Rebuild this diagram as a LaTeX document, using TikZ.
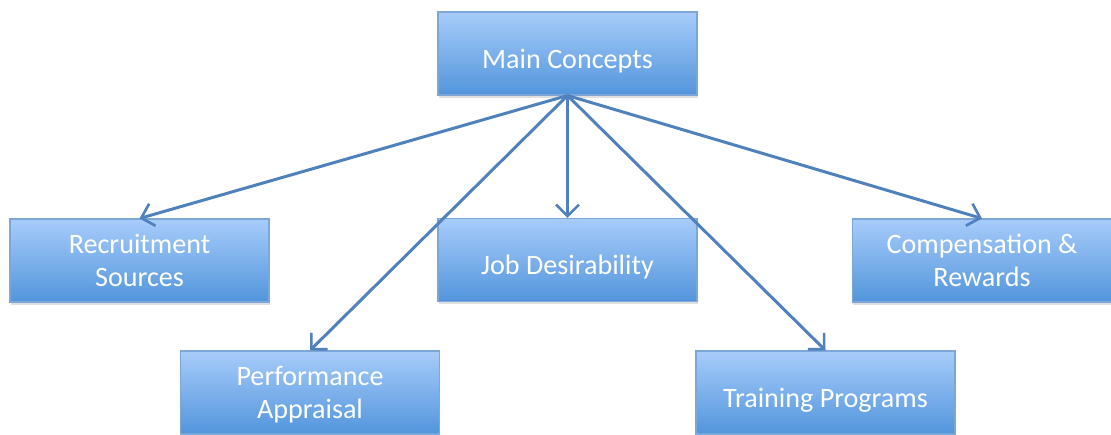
\documentclass[tikz,border=0pt]{standalone}
\usepackage{fontspec}
\setmainfont{Carlito}
\usepackage{tikz}
\usetikzlibrary{arrows.meta, positioning, calc, shadows}

\definecolor{boxtop}{HTML}{A7CCFA}
\definecolor{boxbottom}{HTML}{5295DC}
\definecolor{boxline}{HTML}{7DA7D8}
\definecolor{linkblue}{HTML}{4F81BD}

\begin{document}
\begin{tikzpicture}[concept/.style={rectangle, draw=boxline, line width=0.6pt, top color=boxtop, bottom color=boxbottom, minimum width=5.18cm, minimum height=1.66cm, align=center, text=white, text depth=0pt, font=\fontsize{16}{19}\selectfont, drop shadow={shadow xshift=0.3pt, shadow yshift=-1.5pt, opacity=0.25}}, oneline/.style={concept, text height=17pt}, link/.style={draw=linkblue, line width=1.7pt, -{Straight Barb[length=2.3mm, width=4.6mm, line width=1.5pt]}}]
        \useasboundingbox (0,0) rectangle (22.22,-8.68);
        \node[oneline] (main) at (11.35,-1.07) {Main Concepts};
        \node[oneline] (job) at (11.35,-5.20) {Job Desirability};
        \node[concept] (recruit) at (2.79,-5.21) {Recruitment\\Sources};
        \node[concept] (reward) at (19.64,-5.21) {Compensation \&\\Rewards};
        \node[concept] (appraisal) at (6.20,-7.85) {Performance\\Appraisal};
        \node[oneline] (training) at (16.51,-7.85) {Training Programs};
        \draw[link] (main.south) -- (recruit.north);
        \draw[link] (main.south) -- (job.north);
        \draw[link] (main.south) -- (reward.north);
        \draw[link] (main.south) -- (appraisal.north);
        \draw[link] (main.south) -- (training.north);
    \end{tikzpicture}
\end{document}
